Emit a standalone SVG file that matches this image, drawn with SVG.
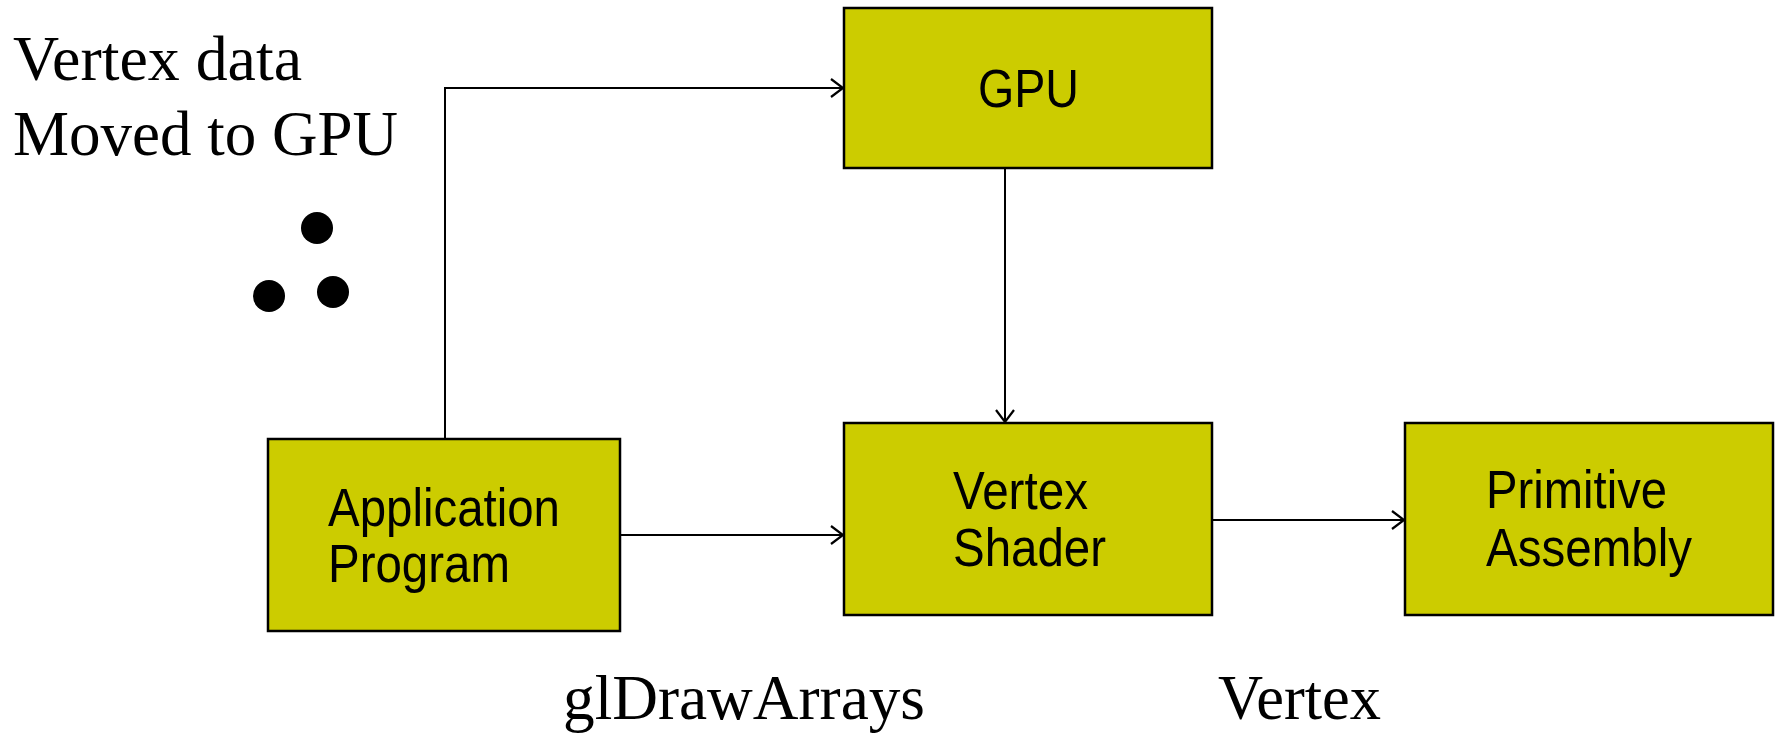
<svg xmlns="http://www.w3.org/2000/svg" width="1775" height="735" viewBox="0 0 1775 735">
<style>
.box{fill:#CCCC00;stroke:#000;stroke-width:2.5}
.lbl{font-family:"Liberation Sans",Arial,sans-serif;font-size:54px;fill:#000}
.tm{font-family:"Liberation Serif","Times New Roman",serif;font-size:64px;fill:#000}
.con{fill:none;stroke:#000;stroke-width:2}
</style>
<defs>
<marker id="arr" markerUnits="userSpaceOnUse" markerWidth="20" markerHeight="20" refX="16" refY="10" orient="auto">
<path d="M4,1 L16,10 L4,19" fill="none" stroke="#000" stroke-width="2.2"/>
</marker>
</defs>
<rect width="1775" height="735" fill="#fff"/>
<g id="label-vertex-data">
<text class="tm" x="13" y="80" textLength="289" lengthAdjust="spacingAndGlyphs">Vertex data</text>
<text class="tm" x="13" y="155" textLength="385" lengthAdjust="spacingAndGlyphs">Moved to GPU</text>
</g>
<g id="dots">
<circle cx="317" cy="228" r="16" fill="#000"/>
<circle cx="269" cy="296" r="16" fill="#000"/>
<circle cx="333" cy="292" r="16" fill="#000"/>
</g>
<g id="connectors">
<path class="con" d="M445,439 L445,88 L843,88" marker-end="url(#arr)"/>
<path class="con" d="M1005,168 L1005,422" marker-end="url(#arr)"/>
<path class="con" d="M620,535 L843,535" marker-end="url(#arr)"/>
<path class="con" d="M1212,520 L1404,520" marker-end="url(#arr)"/>
</g>
<g id="node-gpu">
<rect class="box" x="844" y="8" width="368" height="160"/>
<text class="lbl" x="978" y="107" textLength="101" lengthAdjust="spacingAndGlyphs">GPU</text>
</g>
<g id="node-app">
<rect class="box" x="268" y="439" width="352" height="192"/>
<text class="lbl" x="328" y="526" textLength="232" lengthAdjust="spacingAndGlyphs">Application</text>
<text class="lbl" x="328" y="582" textLength="182" lengthAdjust="spacingAndGlyphs">Program</text>
</g>
<g id="node-vertex-shader">
<rect class="box" x="844" y="423" width="368" height="192"/>
<text class="lbl" x="953" y="509" textLength="135" lengthAdjust="spacingAndGlyphs">Vertex</text>
<text class="lbl" x="953" y="566" textLength="153" lengthAdjust="spacingAndGlyphs">Shader</text>
</g>
<g id="node-primitive-assembly">
<rect class="box" x="1405" y="423" width="368" height="192"/>
<text class="lbl" x="1486" y="508" textLength="181" lengthAdjust="spacingAndGlyphs">Primitive</text>
<text class="lbl" x="1486" y="566" textLength="206" lengthAdjust="spacingAndGlyphs">Assembly</text>
</g>
<g id="label-gldrawarrays">
<text class="tm" x="563" y="719" textLength="362" lengthAdjust="spacingAndGlyphs">glDrawArrays</text>
</g>
<g id="label-vertex">
<text class="tm" x="1218" y="719" textLength="163" lengthAdjust="spacingAndGlyphs">Vertex</text>
</g>
</svg>
